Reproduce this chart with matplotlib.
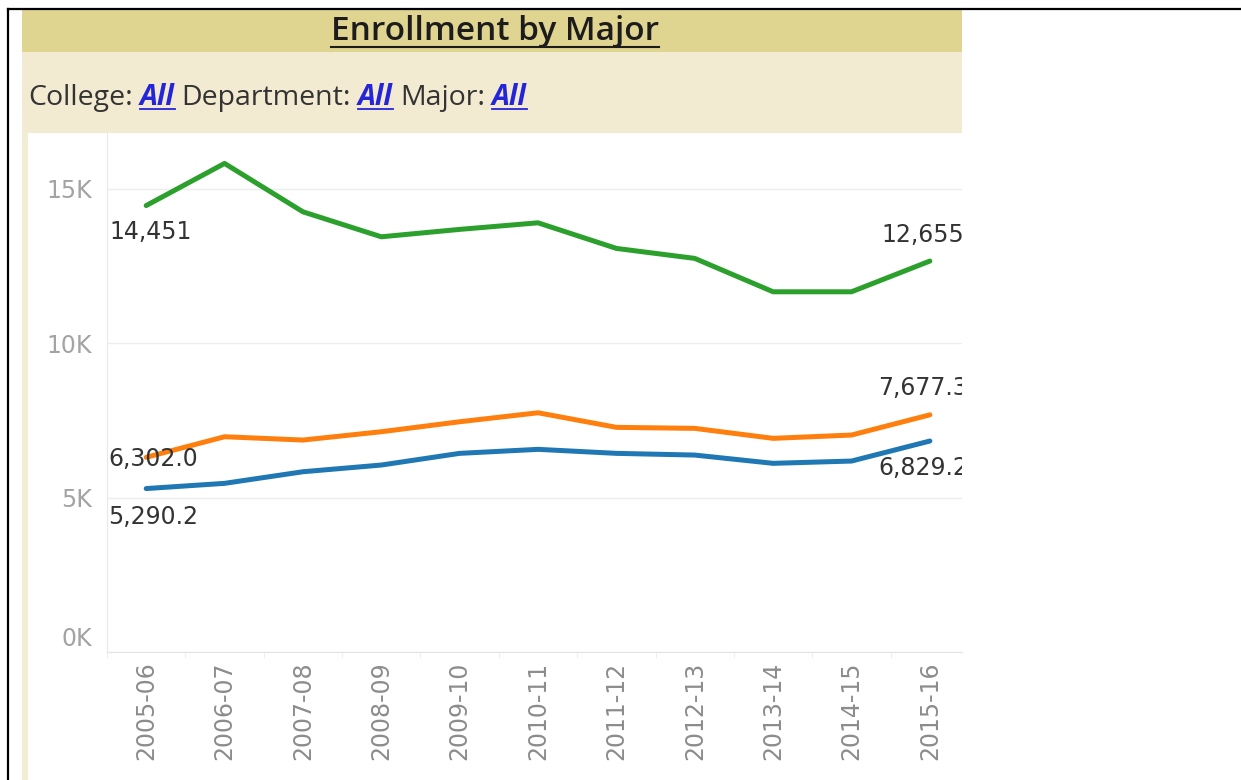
import matplotlib
matplotlib.use('Agg')
import numpy as np
import matplotlib.pyplot as plt
import matplotlib.transforms as mtrans
from matplotlib.patches import Rectangle
from matplotlib.lines import Line2D

# data
years = ['2005-06', '2006-07', '2007-08', '2008-09', '2009-10', '2010-11',
         '2011-12', '2012-13', '2013-14', '2014-15', '2015-16']
green_vals = [14451, 15815, 14249, 13440, 13680, 13893, 13064, 12741, 11660, 11660, 12655]
orange_vals = [6302.0, 6968, 6861, 7130, 7453, 7744, 7272, 7239, 6916, 7023, 7677.3]
blue_vals = [5290.2, 5459, 5835, 6052, 6430, 6560, 6430, 6375, 6107, 6181, 6829.2]
ytick_vals = [0, 5000, 10000, 15000]
ytick_labels = ['0K', '5K', '10K', '15K']

W, H = 1241, 780
fig = plt.figure(figsize=(W / 100, H / 100), dpi=100)
fig.patch.set_facecolor('white')

def fx(x):
    return x / W

def fy(y):
    return 1 - y / H

# header / filter bands
fig.add_artist(Rectangle((fx(22), fy(52)), fx(940), 42 / H, color='#e0d491', lw=0))
fig.add_artist(Rectangle((fx(22), fy(133)), fx(940), 81 / H, color='#f2ebd2', lw=0))
fig.add_artist(Rectangle((fx(22), 0), fx(6), fy(133), color='#f3edd6', lw=0))
# outer black frame lines
fig.add_artist(Line2D([fx(8), 1], [fy(9), fy(9)], color='black', lw=1.6))
fig.add_artist(Line2D([fx(8), fx(8)], [0, fy(9)], color='black', lw=1.6))

renderer = fig.canvas.get_renderer()

# title with underline
t = fig.text(fx(495), fy(40), 'Enrollment by Major', ha='center', va='baseline',
             fontsize=24, family='Open Sans', fontweight='semibold', color='#1c1c1c')
bb = t.get_window_extent(renderer)
fig.add_artist(Line2D([bb.x0 / W, bb.x1 / W], [fy(46.5), fy(46.5)], color='#1c1c1c', lw=1.5))

# filter line
parts = [('College:', False), ('All', True), ('Department:', False), ('All', True),
         ('Major:', False), ('All', True)]
x = 28
for s, link in parts:
    if link:
        t = fig.text(fx(x), fy(105), s, ha='left', va='baseline', fontsize=20.5,
                     family='Open Sans', color='#2424d8', fontweight='bold', style='italic')
    else:
        t = fig.text(fx(x), fy(105), s, ha='left', va='baseline', fontsize=20.5,
                     family='Open Sans', color='#333333')
    bb = t.get_window_extent(renderer)
    if link:
        fig.add_artist(Line2D([bb.x0 / W, bb.x1 / W], [fy(109), fy(109)], color='#2424d8', lw=1.3))
    x = bb.x1 + 7

# plot area
ax = fig.add_axes([fx(107), fy(652), fx(962 - 107), (652 - 133) / H])
xs = np.arange(len(years))
ax.plot(xs, green_vals, color='#2ca02c', lw=3.6, solid_joinstyle='round', solid_capstyle='round')
ax.plot(xs, orange_vals, color='#ff7f0e', lw=3.6, solid_joinstyle='round', solid_capstyle='round')
ax.plot(xs, blue_vals, color='#1f77b4', lw=3.6, solid_joinstyle='round', solid_capstyle='round')

ax.set_xlim(-0.5, 10.41)
ax.set_ylim(0, 16800)

for sp in ['top', 'right']:
    ax.spines[sp].set_visible(False)
ax.spines['left'].set_color('#e8e8e8')
ax.spines['bottom'].set_color('#e4e4e4')

ax.set_yticks(ytick_vals)
ax.set_yticklabels(ytick_labels)
ax.set_xticks(xs)
ax.set_xticklabels(years, rotation=90)
ax.set_xticks(np.arange(-0.5, 10.5), minor=True)
ax.tick_params(axis='y', length=0, pad=11, labelsize=17, labelcolor='#a3a3a3')
ax.tick_params(axis='x', which='major', length=0, pad=7, labelsize=17, labelcolor='#8c8c8c')
ax.tick_params(axis='x', which='minor', length=4, color='#ececec')
ax.grid(axis='y', color='#ededed', lw=1)
ax.set_axisbelow(True)

# 0K label sits a bit above the axis
lab0 = ax.get_yticklabels()[0]
lab0.set_transform(lab0.get_transform() + mtrans.ScaledTranslation(0, 0.15, fig.dpi_scale_trans))

# end labels
def lab(i, vals, fmt, dx, dy):
    ax.annotate(fmt.format(vals[i]), (xs[i], vals[i]), xytext=(dx, dy),
                textcoords='offset pixels', ha='center', va='center',
                fontsize=17, color='#333333', clip_on=True)

lab(0, green_vals, '{:,.0f}', 4, -26)
lab(10, green_vals, '{:,.0f}', -7, 26)
lab(0, orange_vals, '{:,.1f}', 7, -2)
lab(10, orange_vals, '{:,.1f}', -7, 27)
lab(0, blue_vals, '{:,.1f}', 7, -28)
lab(10, blue_vals, '{:,.1f}', -7, -27)

fig.savefig('out.png', dpi=100)
